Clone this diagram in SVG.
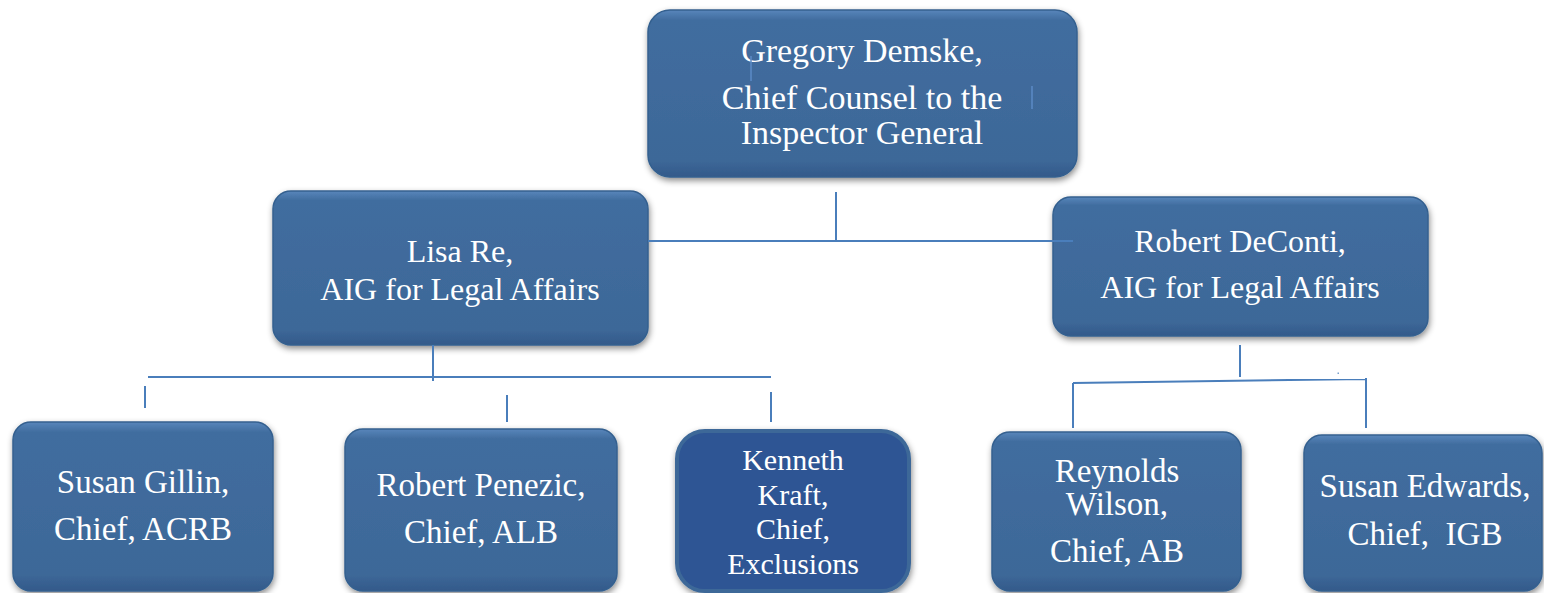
<svg xmlns="http://www.w3.org/2000/svg" width="1544" height="593" viewBox="0 0 1544 593">
<style>
.box{fill:url(#g);stroke:#34608f;stroke-width:1.5;filter:url(#sh)}
.dark{fill:#2e5494;stroke:#3c6898;stroke-width:4;filter:url(#sh)}
.t{font-family:"Liberation Serif","Times New Roman",serif;fill:#ffffff;text-anchor:middle}
.c{stroke:#4a7ebb;stroke-width:2;fill:none}
.s{stroke:#5b8bc6;stroke-width:1.5;fill:none}
</style>
<defs>
<linearGradient id="g" x1="0" y1="0" x2="0" y2="1">
<stop offset="0" stop-color="#5886bb"/>
<stop offset="0.06" stop-color="#416d9f"/>
<stop offset="0.9" stop-color="#3d6898"/>
<stop offset="1" stop-color="#33598a"/>
</linearGradient>
<filter id="sh" x="-10%" y="-10%" width="120%" height="130%">
<feDropShadow dx="1" dy="3" stdDeviation="3" flood-color="#000" flood-opacity="0.45"/>
</filter>
</defs>
<rect width="1544" height="593" fill="#ffffff"/>
<g id="node-demske">
<rect class="box" x="648" y="10" width="429" height="167" rx="22"/>
<text class="t" font-size="34"><tspan x="862" y="62">Gregory Demske,</tspan><tspan x="862" y="109">Chief Counsel to the</tspan><tspan x="862" y="144">Inspector General</tspan></text>
</g>
<g id="node-re">
<rect class="box" x="273" y="191" width="375" height="154" rx="18"/>
<text class="t" font-size="32"><tspan x="460" y="262">Lisa Re,</tspan><tspan x="460" y="300">AIG for Legal Affairs</tspan></text>
</g>
<g id="node-deconti">
<rect class="box" x="1053" y="197" width="375" height="139" rx="18"/>
<text class="t" font-size="32"><tspan x="1240" y="252">Robert DeConti,</tspan><tspan x="1240" y="298">AIG for Legal Affairs</tspan></text>
</g>
<g id="node-gillin">
<rect class="box" x="13" y="422" width="260" height="169" rx="18"/>
<text class="t" font-size="33"><tspan x="143" y="493">Susan Gillin,</tspan><tspan x="143" y="540">Chief, ACRB</tspan></text>
</g>
<g id="node-penezic">
<rect class="box" x="345" y="429" width="272" height="162" rx="18"/>
<text class="t" font-size="33"><tspan x="481" y="496">Robert Penezic,</tspan><tspan x="481" y="543">Chief, ALB</tspan></text>
</g>
<g id="node-kraft">
<rect class="dark" x="677" y="431" width="232" height="160" rx="28"/>
<text class="t" font-size="30"><tspan x="793" y="470">Kenneth</tspan><tspan x="793" y="505">Kraft,</tspan><tspan x="793" y="539">Chief,</tspan><tspan x="793" y="574">Exclusions</tspan></text>
</g>
<g id="node-wilson">
<rect class="box" x="992" y="432" width="249" height="159" rx="18"/>
<text class="t" font-size="33"><tspan x="1117" y="482">Reynolds</tspan><tspan x="1117" y="515">Wilson,</tspan><tspan x="1117" y="562">Chief, AB</tspan></text>
</g>
<g id="node-edwards">
<rect class="box" x="1304" y="435" width="238" height="156" rx="18"/>
<text class="t" font-size="33"><tspan x="1425" y="497">Susan Edwards,</tspan><tspan x="1425" y="545" xml:space="preserve">Chief,  IGB</tspan></text>
</g>
<g id="connectors">
<path class="c" d="M836 192V241M648 241H1073"/>
<path class="c" d="M433 345V381M148 377H771M145 386V408M507 395V422M771 392V422"/>
<path class="c" d="M1240 345V377M1073 383L1366 379M1073 383V428M1366 378V428"/>
<path class="s" d="M751 56V81M1032 86V109"/>
<rect x="1337.5" y="372.5" width="1.5" height="1.5" fill="#7aa0cc"/>
</g>
</svg>
